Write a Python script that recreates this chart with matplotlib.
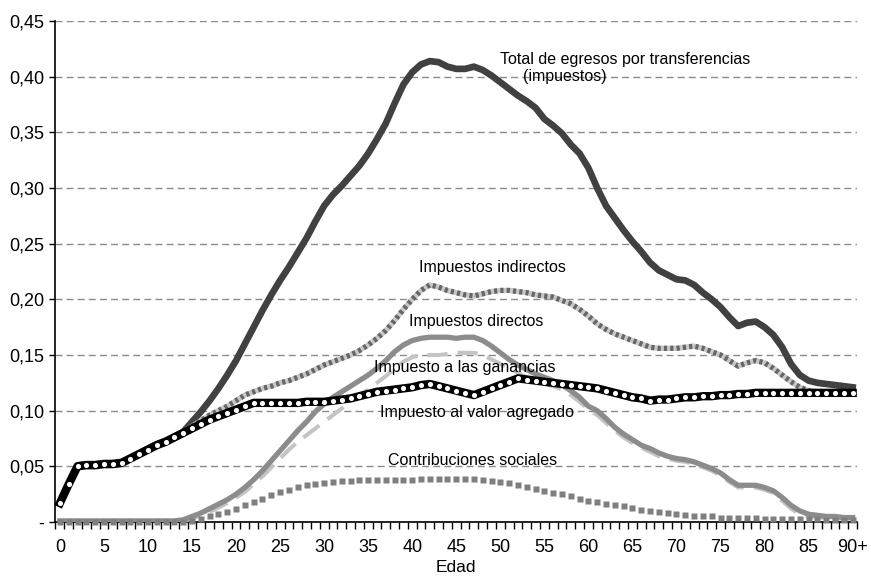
import numpy as np
import matplotlib
matplotlib.use("Agg")
import matplotlib.pyplot as plt

plt.rcParams['font.family'] = ['Liberation Sans', 'DejaVu Sans']

# edades 0..90+
edad = list(range(0, 91))

total = [0.017, 0.034, 0.051, 0.052, 0.052, 0.053, 0.053, 0.054, 0.058, 0.062,
         0.066, 0.070, 0.073, 0.077, 0.081, 0.090, 0.099, 0.109, 0.120, 0.132,
         0.145, 0.160, 0.175, 0.190, 0.204, 0.217, 0.229, 0.242, 0.255, 0.270,
         0.284, 0.294, 0.302, 0.311, 0.320, 0.331, 0.344, 0.358, 0.376, 0.393,
         0.404, 0.411, 0.414, 0.413, 0.409, 0.407, 0.407, 0.409, 0.406, 0.401,
         0.395, 0.389, 0.383, 0.378, 0.372, 0.362, 0.356, 0.349, 0.339, 0.331,
         0.318, 0.300, 0.284, 0.273, 0.262, 0.252, 0.243, 0.233, 0.226, 0.222,
         0.218, 0.217, 0.213, 0.206, 0.200, 0.193, 0.184, 0.176, 0.179, 0.180,
         0.175, 0.168, 0.157, 0.142, 0.132, 0.127, 0.125, 0.124, 0.123, 0.122,
         0.121]

indirectos = [0.017, 0.034, 0.051, 0.052, 0.052, 0.053, 0.053, 0.054, 0.058, 0.062,
              0.066, 0.070, 0.073, 0.077, 0.081, 0.086, 0.091, 0.096, 0.100, 0.104,
              0.109, 0.114, 0.117, 0.120, 0.122, 0.125, 0.127, 0.130, 0.133, 0.137,
              0.141, 0.144, 0.147, 0.150, 0.154, 0.159, 0.165, 0.172, 0.181, 0.191,
              0.200, 0.208, 0.213, 0.211, 0.208, 0.206, 0.204, 0.203, 0.205, 0.207,
              0.208, 0.208, 0.207, 0.206, 0.204, 0.203, 0.202, 0.199, 0.196, 0.191,
              0.185, 0.178, 0.173, 0.169, 0.166, 0.163, 0.160, 0.157, 0.156, 0.156,
              0.156, 0.157, 0.158, 0.156, 0.153, 0.150, 0.145, 0.140, 0.143, 0.145,
              0.143, 0.138, 0.132, 0.126, 0.121, 0.118, 0.117, 0.117, 0.116, 0.116,
              0.116]

iva = [0.017, 0.034, 0.050, 0.051, 0.051, 0.052, 0.052, 0.053, 0.057, 0.061,
       0.065, 0.069, 0.072, 0.076, 0.080, 0.084, 0.088, 0.092, 0.095, 0.098,
       0.101, 0.104, 0.107, 0.107, 0.107, 0.107, 0.107, 0.107, 0.108, 0.108,
       0.108, 0.109, 0.110, 0.111, 0.113, 0.115, 0.117, 0.118, 0.119, 0.120,
       0.121, 0.123, 0.124, 0.122, 0.120, 0.118, 0.116, 0.114, 0.117, 0.120,
       0.123, 0.126, 0.129, 0.128, 0.127, 0.126, 0.125, 0.124, 0.123, 0.122,
       0.121, 0.120, 0.118, 0.116, 0.114, 0.112, 0.111, 0.109, 0.110, 0.110,
       0.111, 0.112, 0.112, 0.113, 0.113, 0.114, 0.114, 0.115, 0.115, 0.116,
       0.116, 0.116, 0.116, 0.116, 0.116, 0.116, 0.116, 0.116, 0.116, 0.116,
       0.116]

directos = [0.001, 0.001, 0.001, 0.001, 0.001, 0.001, 0.001, 0.001, 0.001, 0.001,
            0.001, 0.001, 0.001, 0.001, 0.002, 0.005, 0.008, 0.012, 0.016, 0.020,
            0.025, 0.031, 0.038, 0.046, 0.055, 0.064, 0.073, 0.082, 0.090, 0.099,
            0.106, 0.112, 0.117, 0.122, 0.127, 0.132, 0.138, 0.145, 0.153, 0.159,
            0.163, 0.165, 0.166, 0.166, 0.166, 0.165, 0.166, 0.166, 0.163, 0.158,
            0.152, 0.146, 0.141, 0.137, 0.133, 0.130, 0.127, 0.123, 0.118, 0.112,
            0.104, 0.100, 0.093, 0.085, 0.079, 0.074, 0.069, 0.066, 0.062, 0.059,
            0.057, 0.056, 0.054, 0.051, 0.048, 0.044, 0.038, 0.033, 0.033, 0.033,
            0.031, 0.028, 0.022, 0.015, 0.010, 0.007, 0.006, 0.005, 0.005, 0.004,
            0.004]

ganancias = [0.000, 0.000, 0.000, 0.000, 0.000, 0.000, 0.000, 0.000, 0.000, 0.000,
             0.000, 0.000, 0.000, 0.000, 0.001, 0.003, 0.006, 0.009, 0.013, 0.017,
             0.022, 0.027, 0.034, 0.041, 0.049, 0.057, 0.065, 0.072, 0.078, 0.084,
             0.090, 0.096, 0.102, 0.108, 0.114, 0.119, 0.125, 0.131, 0.138, 0.144,
             0.148, 0.150, 0.150, 0.150, 0.151, 0.152, 0.152, 0.152, 0.150, 0.146,
             0.142, 0.138, 0.134, 0.130, 0.127, 0.124, 0.122, 0.119, 0.114, 0.108,
             0.101, 0.096, 0.089, 0.082, 0.076, 0.071, 0.067, 0.063, 0.059, 0.057,
             0.055, 0.054, 0.052, 0.049, 0.046, 0.042, 0.036, 0.031, 0.031, 0.031,
             0.029, 0.026, 0.019, 0.012, 0.007, 0.005, 0.004, 0.004, 0.003, 0.003,
             0.003]

contribuciones = [0.000, 0.000, 0.000, 0.000, 0.000, 0.000, 0.000, 0.000, 0.000, 0.000,
                  0.000, 0.000, 0.000, 0.000, 0.000, 0.001, 0.003, 0.005, 0.007, 0.009,
                  0.012, 0.015, 0.018, 0.021, 0.024, 0.027, 0.029, 0.031, 0.033, 0.034,
                  0.035, 0.036, 0.037, 0.037, 0.038, 0.038, 0.038, 0.038, 0.038, 0.038,
                  0.038, 0.039, 0.039, 0.039, 0.039, 0.039, 0.039, 0.039, 0.038, 0.037,
                  0.036, 0.035, 0.033, 0.031, 0.030, 0.028, 0.026, 0.025, 0.023, 0.021,
                  0.019, 0.018, 0.016, 0.015, 0.014, 0.013, 0.011, 0.010, 0.009, 0.008,
                  0.007, 0.006, 0.005, 0.005, 0.005, 0.004, 0.004, 0.004, 0.004, 0.004,
                  0.003, 0.003, 0.003, 0.003, 0.003, 0.003, 0.003, 0.002, 0.002, 0.002,
                  0.002]

yticks = [0, 0.05, 0.10, 0.15, 0.20, 0.25, 0.30, 0.35, 0.40, 0.45]
ylabels = ['-', '0,05', '0,10', '0,15', '0,20', '0,25', '0,30', '0,35', '0,40', '0,45']
xticks = list(range(0, 91, 5))
xlabels = [str(v) for v in xticks[:-1]] + ['90+']

fig = plt.figure(figsize=(8.71, 5.77), dpi=100)
ax = fig.add_axes([0.0637, 0.0953, 0.9203, 0.8683])

ax.plot(edad, total, color='#414042', lw=4.8, solid_joinstyle='round', zorder=3)
ax.plot(edad, indirectos, color='#c8c8c8', lw=3.8, zorder=4)
ax.plot(edad, indirectos, color='#666666', lw=3.8, dashes=(0.6, 0.6), zorder=4)
ax.plot(edad, ganancias, color='#c4c4c4', lw=2.9, dashes=(5, 2.5), zorder=5)
ax.plot(edad, directos, color='#8c8c8c', lw=3.8, zorder=6)
ax.plot(edad, contribuciones, ls='none', marker='s', ms=4.7, color='#7f7f7f',
        mec='none', zorder=7, clip_on=False)
ax.plot(edad, iva, color='black', lw=6, marker='o', ms=3.7, mfc='white',
        mec='none', zorder=8)

tx = dict(ha='center', va='center', fontsize=11.5, zorder=9)
ax.text(64.2, 0.415, 'Total de egresos por transferencias', **tx)
ax.text(57.3, 0.400, '(impuestos)', **tx)
ax.text(49.1, 0.229, 'Impuestos indirectos', **tx)
ax.text(47.3, 0.180, 'Impuestos directos', **tx)
ax.text(46.0, 0.139, 'Impuesto a las ganancias', **tx)
ax.text(47.3, 0.098, 'Impuesto al valor agregado', **tx)
ax.text(46.9, 0.055, 'Contribuciones sociales', **tx)

ax.set_xlim(-0.5, 90.5)
ax.set_ylim(0, 0.45)
ax.set_yticks(yticks)
ax.set_yticklabels(ylabels, fontsize=13)
ax.set_xticks(xticks)
ax.set_xticklabels(xlabels, fontsize=13)
ax.set_xticks(np.arange(-0.5, 91, 1), minor=True)
ax.tick_params(axis='x', which='major', length=0, pad=12)
ax.tick_params(axis='x', which='minor', length=5, width=1, direction='out')
ax.tick_params(axis='y', length=4, width=1, pad=4)
ax.set_xlabel('Edad', fontsize=12.5, labelpad=3)

ax.yaxis.grid(True, color='#8a8a8a', lw=1, dashes=(5, 3))
ax.set_axisbelow(True)
ax.spines['top'].set_visible(False)
ax.spines['right'].set_visible(False)
ax.spines['left'].set_linewidth(1.2)
ax.spines['bottom'].set_linewidth(1.2)

fig.savefig('out.png', dpi=100)
